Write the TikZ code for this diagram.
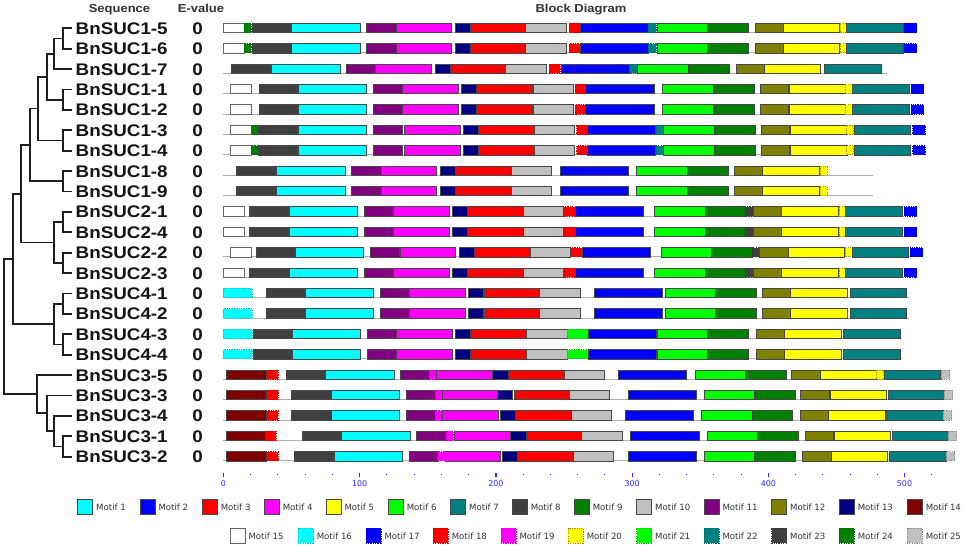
\documentclass[tikz,border=0pt]{standalone}
\usepackage{fontspec}
\setmainfont{DejaVu Sans}
\newfontfamily\labf{Liberation Sans}[FakeStretch=1.12]
\newfontfamily\legf{DejaVu Sans}
\definecolor{cM1}{RGB}{0,255,255}
\definecolor{cM2}{RGB}{0,0,255}
\definecolor{cM3}{RGB}{255,0,0}
\definecolor{cM4}{RGB}{255,0,255}
\definecolor{cM5}{RGB}{255,255,0}
\definecolor{cM6}{RGB}{0,255,0}
\definecolor{cM7}{RGB}{0,128,128}
\definecolor{cM8}{RGB}{64,64,64}
\definecolor{cM9}{RGB}{0,128,0}
\definecolor{cM10}{RGB}{192,192,192}
\definecolor{cM11}{RGB}{128,0,128}
\definecolor{cM12}{RGB}{128,128,0}
\definecolor{cM13}{RGB}{0,0,128}
\definecolor{cM14}{RGB}{128,0,0}
\definecolor{txtg}{RGB}{51,51,51}
\definecolor{tickb}{RGB}{40,40,255}
\definecolor{treec}{RGB}{30,30,30}
\definecolor{basec}{RGB}{175,175,175}
\expandafter\def\csname w1\endcsname{68.3}
\expandafter\def\csname w2\endcsname{68.3}
\expandafter\def\csname w3\endcsname{55.7}
\expandafter\def\csname w4\endcsname{55.7}
\expandafter\def\csname w5\endcsname{56.5}
\expandafter\def\csname w6\endcsname{50.7}
\expandafter\def\csname w7\endcsname{56.8}
\expandafter\def\csname w8\endcsname{39.5}
\expandafter\def\csname w9\endcsname{40.5}
\expandafter\def\csname w10\endcsname{40.3}
\expandafter\def\csname w11\endcsname{29.3}
\expandafter\def\csname w12\endcsname{28.7}
\expandafter\def\csname w13\endcsname{15.3}
\expandafter\def\csname w14\endcsname{40}
\expandafter\def\csname w15\endcsname{21}
\expandafter\def\csname w16\endcsname{29}
\expandafter\def\csname w17\endcsname{12.5}
\expandafter\def\csname w18\endcsname{11}
\expandafter\def\csname w19\endcsname{7.3}
\expandafter\def\csname w20\endcsname{7}
\expandafter\def\csname w21\endcsname{21}
\expandafter\def\csname w22\endcsname{8}
\expandafter\def\csname w23\endcsname{7.5}
\expandafter\def\csname w24\endcsname{7}
\expandafter\def\csname w25\endcsname{8.5}
\tikzset{
  sb/.style={line width=0.7pt,draw=black!72},
  db/.style={line width=0.9pt,dash pattern=on 1.3pt off 1.1pt},
  m1/.style={sb,fill=cM1}, m2/.style={sb,fill=cM2}, m3/.style={sb,fill=cM3},
  m4/.style={sb,fill=cM4}, m5/.style={sb,fill=cM5}, m6/.style={sb,fill=cM6},
  m7/.style={sb,fill=cM7}, m8/.style={sb,fill=cM8}, m9/.style={sb,fill=cM9},
  m10/.style={sb,fill=cM10}, m11/.style={sb,fill=cM11}, m12/.style={sb,fill=cM12},
  m13/.style={sb,fill=cM13}, m14/.style={sb,fill=cM14},
  m15/.style={line width=0.7pt,draw=black!60,fill=white},
  m16/.style={db,fill=cM1,draw=cM1!80!black},
  m17/.style={db,fill=cM2,draw=cM2!80!black},
  m18/.style={db,fill=cM3,draw=cM3!85!black},
  m19/.style={db,fill=cM4,draw=cM4!85!black},
  m20/.style={db,fill=cM5,draw=cM12!80!cM5},
  m21/.style={db,fill=cM6,draw=cM6!80!black},
  m22/.style={db,fill=cM7,draw=cM7!85!black},
  m23/.style={db,fill=cM8,draw=cM8!85!black},
  m24/.style={db,fill=cM9,draw=cM9!85!black},
  m25/.style={db,fill=cM10,draw=black!45},
  tree/.style={line width=1.8pt,draw=treec},
  seqlab/.style={font=\labf\bfseries\fontsize{16.8}{18}\selectfont,inner sep=0pt,anchor=base west,text=black!92},
  evlab/.style={font=\labf\bfseries\fontsize{16.8}{18}\selectfont,inner sep=0pt,anchor=base,text=black!92},
  headlab/.style={font=\labf\bfseries\fontsize{11.6}{13}\selectfont,inner sep=0pt,anchor=base,text=txtg},
  leglab/.style={font=\legf\fontsize{8.6}{10}\selectfont,inner sep=0pt,anchor=west,text=txtg},
  ticklab/.style={font=\legf\fontsize{7.9}{9}\selectfont,inner sep=0pt,anchor=center,text=tickb},
  baseln/.style={line width=0.9pt,draw=basec}
}
\newcommand\mrow[3]{%
  \pgfmathsetmacro\yc{28.2+20.4*#1}%
  \draw[baseln] (223.3,\yc+4.3) -- (#2,\yc+4.3);%
  \foreach \m/\x in {#3} {\draw[m\m] (\x,\yc-5) rectangle ++(\csname w\m\endcsname,9.3);}%
}
\begin{document}
\begin{tikzpicture}[x=1pt,y=-1pt]
\path[use as bounding box,fill=white] (0,0) rectangle (964,547);
% headers
\node[headlab] (hseq) at (119.5,12.3) {Sequence};
\node[headlab] (hev) at (201,12.3) {E-value};
\node[headlab] (hblk) at (581,12.3) {Block Diagram};
% labels
\foreach \i/\t in {0/BnSUC1-5,1/BnSUC1-6,2/BnSUC1-7,3/BnSUC1-1,4/BnSUC1-2,5/BnSUC1-3,6/BnSUC1-4,7/BnSUC1-8,8/BnSUC1-9,9/BnSUC2-1,10/BnSUC2-4,11/BnSUC2-2,12/BnSUC2-3,13/BnSUC4-1,14/BnSUC4-2,15/BnSUC4-3,16/BnSUC4-4,17/BnSUC3-5,18/BnSUC3-3,19/BnSUC3-4,20/BnSUC3-1,21/BnSUC3-2}{
  \pgfmathsetmacro\yy{28.2+20.4*\i}
  \node[seqlab] (lab\i) at (75.5,\yy+6) {\t};
  \node[evlab] (ev\i) at (197.5,\yy+6) {0};
  \coordinate (L\i) at (71.7,\yy);
}
% tree
\coordinate (A) at (63.3,38.4);
\coordinate (B) at (54.3,53.7);
\coordinate (P1) at (63.3,99.6);
\coordinate (C) at (46.7,76.65);
\coordinate (P2) at (63.3,140.4);
\coordinate (D) at (38.3,108.5);
\coordinate (P3) at (63.3,181.2);
\coordinate (E) at (30,144.9);
\coordinate (Q1) at (63.3,222);
\coordinate (Q2) at (63.3,262.8);
\coordinate (Q) at (54.3,242.4);
\coordinate (F) at (21,193.6);
\coordinate (R1) at (63.3,303.6);
\coordinate (R2) at (63.3,344.4);
\coordinate (R) at (54.3,324);
\coordinate (G) at (12.7,258.8);
\coordinate (S1) at (63.3,446.4);
\coordinate (S2) at (54.3,431.1);
\coordinate (S3) at (46.7,413.2);
\coordinate (S4) at (37.3,394.1);
\coordinate (Rt) at (4,326.5);
\foreach \p/\c in {A/L0,A/L1,B/A,B/L2,P1/L3,P1/L4,C/B,C/P1,P2/L5,P2/L6,D/C,D/P2,P3/L7,P3/L8,E/D,E/P3,Q1/L9,Q1/L10,Q2/L11,Q2/L12,Q/Q1,Q/Q2,F/E,F/Q,R1/L13,R1/L14,R2/L15,R2/L16,R/R1,R/R2,G/F,G/R,S1/L20,S1/L21,S2/L19,S2/S1,S3/L18,S3/S2,S4/L17,S4/S3,Rt/G,Rt/S4}{
  \draw[tree] (\p) |- (\c);
}
% block rows
\mrow{0}{904}{15/223.3,24/244.3,8/252.3,1/291.7,11/366.7,4/396,13/455,3/470,10/525.7,18/569.3,2/580,22/648.3,6/657.3,9/707.7,12/755,5/783.3,20/840,7/846.7,17/904}
\mrow{1}{904}{15/223.3,24/244.3,8/252.3,1/291.7,11/366.7,4/396,13/455,3/470,10/525.7,18/569.3,2/580,22/648.3,6/657.3,9/707.7,12/755,5/783.3,20/840,7/846.7,17/904}
\mrow{2}{886.7}{8/231.7,1/271.7,11/346,4/375.7,13/435,3/450,10/505.7,18/549,2/561,22/630,6/637.7,9/689,12/736,5/764.3,7/824.3}
\mrow{3}{911}{15/230,8/259,1/298.3,11/373.3,4/402.7,13/461.7,3/476.7,10/533.3,18/575,2/585.7,6/662.3,9/714,12/760,5/789,20/845,7/852.7,17/911}
\mrow{4}{911}{15/230,8/259,1/298.3,11/373.3,4/402.7,13/461.7,3/476.7,10/533.3,18/575,2/585.7,6/662.3,9/714,12/760,5/789,20/845,7/852.7,17/911}
\mrow{5}{912}{15/230,24/251.7,8/258.3,1/298.3,11/373.3,4/404.3,13/463,3/478.3,10/534.3,18/576.7,2/587.3,22/656,6/663.3,9/715,12/761,5/790.7,20/846.7,7/854,17/912.7}
\mrow{6}{912}{15/230,24/251.7,8/258.3,1/298.3,11/373.3,4/404.3,13/463,3/478.3,10/534.3,18/576.7,2/587.3,22/656,6/663.3,9/715,12/761,5/790.7,20/846.7,7/854,17/912.7}
\mrow{7}{873.3}{8/236.7,1/276.7,11/351.7,4/381,13/440,3/455.7,10/511,2/560,6/636.7,9/687.7,12/734.3,5/762.7,20/820}
\mrow{8}{873.3}{8/236.7,1/276.7,11/351.7,4/381,13/440,3/455.7,10/511,2/560,6/636.7,9/687.7,12/734.3,5/762.7,20/820}
\mrow{9}{904}{15/223.3,8/249.3,1/289,11/364,4/393.3,13/452.3,3/467.7,10/523.3,18/564,2/575,6/654.3,9/705,23/745.7,12/753.3,5/781.7,20/839,7/845.7,17/904.3}
\mrow{10}{904}{15/223.3,8/249.3,1/289,11/364,4/393.3,13/452.3,3/467.7,10/523.3,18/564,2/575,6/654.3,9/705,23/745.7,12/753.3,5/781.7,20/839,7/845.7,17/904.3}
\mrow{11}{910}{15/230.5,8/256,1/295.5,11/370.5,4/400,13/459,3/474.5,10/530,18/571,2/582,6/661,9/711.5,23/752,12/759.5,5/788,20/845,7/852,17/910}
\mrow{12}{904}{15/223.3,8/249.3,1/289,11/364,4/393.3,13/452.3,3/467.7,10/523.3,18/564,2/575,6/654.3,9/705,23/745.7,12/753.3,5/781.7,20/839,7/845.7,17/904.3}
\mrow{13}{909}{16/223.3,8/266,1/305.5,11/380,4/409.5,13/468.5,3/484,10/539.7,2/594,6/665,9/715.7,12/762,5/790.7,7/850}
\mrow{14}{909}{16/223.3,8/266,1/305.5,11/380,4/409.5,13/468.5,3/484,10/539.7,2/594,6/665,9/715.7,12/762,5/790.7,7/850}
\mrow{15}{902}{16/223.3,8/253,1/292.5,11/367,4/396.5,13/455.5,3/471,10/526.7,21/567,2/588,6/657,9/707.7,12/756,5/784.7,7/843.5}
\mrow{16}{902}{16/223.3,8/253,1/292.5,11/367,4/396.5,13/455.5,3/471,10/526.7,21/567,2/588,6/657,9/707.7,12/756,5/784.7,7/843.5}
\mrow{17}{941}{14/226,18/267.3,8/286,1/325.7,11/400,19/429.3,4/436.7,13/492.7,3/508.3,10/564,2/618.3,6/695,9/745.7,12/791.7,5/820.7,20/876.7,7/884,25/941}
\mrow{18}{944}{14/226,18/267.3,8/291.7,1/331.3,11/406,19/435,4/442.3,13/497.3,3/514,10/569.3,2/628.3,6/704,9/755,12/800.7,5/830,7/888.3,25/944.3}
\mrow{19}{943}{14/226,18/267.3,8/291.7,1/331.3,11/406,19/435.3,4/442.3,13/500,3/515.7,10/571.3,2/625,6/701.3,9/752.3,12/800,5/828.7,7/886.7,25/943.3}
\mrow{20}{948}{14/226,18/265,8/302.3,1/341.7,11/416.7,19/446,4/454.3,13/510.7,3/526,10/581.7,2/630.7,6/707.3,9/757.7,12/805,5/834,7/892.3,25/948.3}
\mrow{21}{946}{14/226,18/267,8/294,1/334,11/409,19/437.7,4/445,13/502.7,3/517.3,10/573.3,2/628.3,6/704,9/755,12/802.3,5/831,7/889.3,25/946}
% axis
\foreach \k in {0,...,26}{
  \fill[tickb] (223.5+27.24*\k-0.5,473.5) rectangle ++(1,1);
}
\foreach \k/\t in {0/0,1/100,2/200,3/300,4/400,5/500}{
  \draw[tickb,line width=1.2pt] (223.5+136.2*\k,472.5) -- ++(0,4.8);
  \node[ticklab] (tk\k) at (223.5+136.2*\k,483.6) {\t};
}
% legend
\foreach \m/\x in {1/77.7,2/140,3/202.3,4/264.3,5/326,6/388.3,7/450.7,8/512.3,9/574.3,10/636.7,11/704,12/771.7,13/839.3,14/907.3}{
  \draw[m\m] (\x,499.3) rectangle ++(15,15);
  \node[leglab] (lg\m) at (\x+18.3,506.8) {Motif \m};
}
\foreach \m/\x in {15/230,16/298.3,17/366,18/433.3,19/501,20/568.3,21/636.7,22/704,23/771.7,24/839.3,25/907.3}{
  \draw[m\m] (\x,528.3) rectangle ++(15,15);
  \node[leglab] (lg\m) at (\x+18.3,535.8) {Motif \m};
}
\end{tikzpicture}
\end{document}
